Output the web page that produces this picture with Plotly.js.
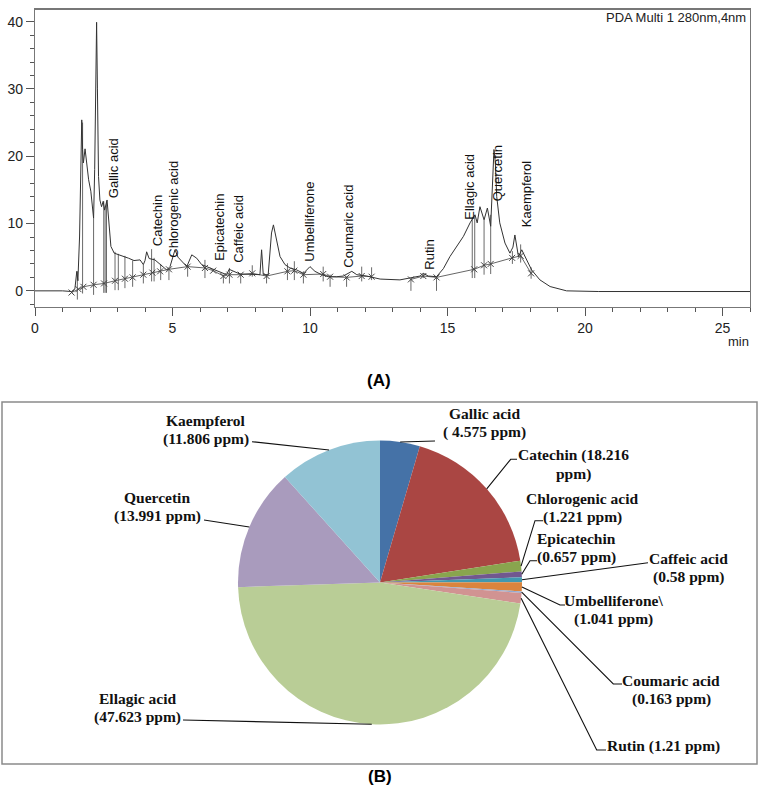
<!DOCTYPE html>
<html>
<head>
<meta charset="utf-8">
<script src="https://cdn.plot.ly/plotly-3.0.1.min.js"></script>
<style>html,body{margin:0;padding:0;background:#fff;}#chart{width:760px;height:800px;}</style>
</head>
<body>
<div id="chart"></div>
<script>
// ---------- (A) chromatogram ----------
const chromT = [0, 0.5, 1.0, 1.33, 1.45, 1.52, 1.56, 1.62, 1.67, 1.70, 1.73, 1.76, 1.82, 1.88, 1.95, 2.03, 2.10, 2.13, 2.17, 2.21, 2.24, 2.27, 2.31, 2.36, 2.42, 2.48, 2.53, 2.62, 2.68, 2.76, 2.88, 3.1, 3.3, 3.4, 3.6, 3.82, 3.94, 4.0, 4.06, 4.15, 4.36, 4.55, 4.79, 4.91, 5.03, 5.09, 5.2, 5.33, 5.52, 5.7, 5.88, 6.06, 6.36, 6.73, 6.97, 7.06, 7.21, 7.45, 7.94, 8.18, 8.24, 8.30, 8.48, 8.60, 8.67, 8.79, 8.91, 9.09, 9.27, 9.52, 9.76, 10.0, 10.18, 10.42, 10.67, 10.97, 11.21, 11.52, 11.7, 12.06, 12.55, 13.27, 13.70, 14.0, 14.12, 14.3, 14.6, 14.85, 15.09, 15.33, 15.58, 15.82, 16.0, 16.08, 16.18, 16.33, 16.45, 16.57, 16.63, 16.69, 16.74, 16.79, 16.9, 17.09, 17.27, 17.38, 17.45, 17.52, 17.58, 17.70, 17.82, 18.06, 18.36, 18.73, 19.33, 20.5, 22, 24, 26];
const chromY = [0, 0.05, 0, -0.1, 0.3, 2.9, 1.5, 8, 18, 25.4, 21, 19, 21.1, 19, 16.5, 14.8, 11.5, 10.8, 18, 32, 39.9, 30, 17, 13.5, 12.5, 13.3, 12.0, 13.5, 10, 6.6, 5.6, 5.3, 5.1, 4.85, 4.5, 4.6, 3.9, 4.5, 5.8, 4.8, 4.6, 3.9, 3.1, 3.6, 5.2, 6.1, 5.0, 4.4, 3.6, 5.35, 4.85, 3.9, 3.4, 2.7, 2.4, 3.2, 2.9, 2.5, 2.45, 2.4, 6.1, 2.4, 2.4, 8.6, 9.8, 7.6, 5.1, 3.9, 3.4, 3.1, 2.6, 3.6, 2.9, 2.4, 2.1, 2.1, 2.2, 2.9, 2.4, 2.2, 1.75, 1.63, 1.9, 2.2, 2.6, 2.2, 2.1, 3.3, 5.1, 6.5, 8.1, 10.1, 11.3, 10.1, 12.5, 10.55, 12.3, 9.6, 15, 21, 19, 14.0, 10.1, 7.1, 5.6, 6.5, 8.3, 6.5, 5.1, 6.1, 5.1, 3.1, 1.63, 0.64, 0.0, -0.1, -0.1, -0.1, -0.1];

// integration baseline (null = break)
const baseT = [1.33, 1.58, 1.76, 2.13, 2.51, 2.91, 3.27, 3.55, 3.94, 4.27, 4.55, 4.87, 5.55, 6.18, 6.48, 6.85, 7.07, 7.48, 7.90, 8.42, 9.18, 9.43, 9.76, 10.48, 10.73, 11.33, 11.88, 12.24, null, 13.67, 14.12, 14.6, 15.97, 16.33, 16.57, 17.35, 17.66, 18.04];
const baseY = [-0.25, 0.25, 0.6, 0.9, 1.1, 1.5, 1.8, 2.0, 2.4, 2.7, 2.9, 3.2, 3.6, 3.4, 3.0, 2.2, 2.4, 2.4, 2.6, 2.2, 2.9, 3.0, 2.4, 2.5, 2.1, 2.0, 2.2, 2.1, null, 1.7, 2.2, 2.0, 3.2, 3.8, 4.0, 4.9, 5.2, 2.6];

// peak drop lines
const dropT   = [1.54, 1.73, 2.13, 2.50, 2.55, 2.60, 2.91, 3.03, 3.27, 3.55, 3.94, 4.24, 4.33, 4.57, 4.87, 5.55, 6.18, 6.85, 7.07, 7.48, 7.90, 8.42, 9.18, 9.43, 9.76, 10.48, 10.73, 11.33, 11.88, 12.24, 13.67, 14.12, 14.6, 15.9, 15.99, 16.33, 16.57, 17.36, 17.66, 18.04];
const dropTop = [2.9, 25, 10.8, 13.3, 12.5, 13.3, 5.8, 5.5, 5.2, 4.5, 3.9, 6.2, 4.9, 4.0, 3.1, 3.8, 4.6, 2.4, 3.4, 2.6, 3.8, 2.4, 4.1, 4.4, 2.9, 3.6, 2.4, 2.1, 3.6, 3.5, 1.7, 2.6, 2.1, 11.0, 11.2, 10.55, 11.3, 5.9, 6.9, 3.5];
const dropBot = [-1.3, -0.4, -0.6, -0.3, -0.3, -0.3, 0.1, 0.1, 0.4, 0.6, 1.1, 1.4, 1.4, 1.6, 1.6, 2.1, 1.9, 1.1, 1.1, 1.1, 2.1, 1.1, 1.6, 1.6, 1.1, 1.4, 0.6, 0.6, 1.4, 1.6, 0.0, 1.9, 0.0, 1.9, 1.9, 2.4, 2.5, 4.0, 4.2, 1.8];

// peak labels
const peakNames  = ["Gallic acid", "Catechin", "Chlorogenic acid", "Epicatechin", "Caffeic acid", "Umbelliferone", "Coumaric acid", "Rutin", "Ellagic acid", "Quercetin", "Kaempferol"];
const peakTimes  = [2.88, 4.48, 5.03, 6.73, 7.39, 9.98, 11.39, 14.34, 15.79, 16.80, 17.86];
const peakLabelY = [13.5, 6.3, 4.6, 4.1, 3.9, 4.1, 3.1, 2.9, 10.3, 13.0, 9.1];

// ---------- (B) pie ----------
const compounds = ["Gallic acid", "Catechin", "Chlorogenic acid", "Epicatechin", "Caffeic acid", "Umbelliferone", "Coumaric acid", "Rutin", "Ellagic acid", "Quercetin", "Kaempferol"];
const ppm = [4.575, 18.216, 1.221, 0.657, 0.58, 1.041, 0.163, 1.21, 47.623, 13.991, 11.806];
const sliceColors = ["#4572A7", "#AA4643", "#89A54E", "#71588F", "#4198AF", "#DB843D", "#93A9CF", "#D19392", "#B9CD96", "#A99BBD", "#92C3D4"];
const pieLabels = ["Gallic acid|( 4.575 ppm)", "Catechin (18.216|ppm)", "Chlorogenic acid|(1.221 ppm)", "Epicatechin|(0.657 ppm)", "Caffeic acid|(0.58 ppm)", "Umbelliferone\\|(1.041 ppm)", "Coumaric acid|(0.163 ppm)", "Rutin (1.21 ppm)", "Ellagic acid|(47.623 ppm)", "Quercetin|(13.991 ppm)", "Kaempferol|(11.806 ppm)"];

// ---------- layout helpers (pixel -> paper) ----------
const W = 760, H = 800;
const px = v => v / W, py = v => 1 - v / H;
const pieCx = 380, pieCy = 582.5, pieR = 142;
// first-line centre of each pie label (px)
const labelPos = [[484, 413], [573, 455], [582, 498], [576, 538], [688, 558], [613, 600], [671, 680], [663, 746], [137, 698], [157, 497], [206, 420]];
const lineGap = 19;
// leader elbows/ends (px)
const leaderPts = [
  [[435, 441]],
  [[510.7, 459.3], [517, 459.3]],
  [[535, 520.7], [543, 520.7]],
  [[530, 560.7], [537, 560.7]],
  [[648, 562.7]],
  [[560, 605], [565, 605]],
  [[613.3, 684], [622, 684]],
  [[596.7, 750], [606, 750]],
  [[183, 720]],
  [[204, 520]],
  [[252, 441.7]]
];

// drop line arrays
const dx = [], dy = [];
dropT.forEach((t, i) => { dx.push(t, t, null); dy.push(dropTop[i], dropBot[i], null); });

const traces = [
  {type: 'scatter', mode: 'lines', x: dx, y: dy, line: {color: '#444', width: 0.8}, hoverinfo: 'skip', xaxis: 'x', yaxis: 'y'},
  {type: 'scatter', mode: 'lines+markers', x: baseT, y: baseY, line: {color: '#555', width: 0.9}, marker: {symbol: 'x-thin', size: 6, line: {color: '#444', width: 1}}, hoverinfo: 'skip', connectgaps: false, xaxis: 'x', yaxis: 'y'},
  {type: 'scatter', mode: 'lines', x: chromT, y: chromY, line: {color: '#333', width: 1}, hoverinfo: 'skip', xaxis: 'x', yaxis: 'y'},
  {type: 'pie', values: ppm, labels: compounds, sort: false, direction: 'clockwise', rotation: 0,
   marker: {colors: sliceColors, line: {width: 0}}, textinfo: 'none', hoverinfo: 'none',
   domain: {x: [px(pieCx - pieR), px(pieCx + pieR)], y: [py(pieCy + pieR), py(pieCy - pieR)]}}
];

const annotations = [];
peakNames.forEach((n, i) => annotations.push({
  x: peakTimes[i], y: peakLabelY[i], xref: 'x', yref: 'y', text: n, textangle: -90,
  showarrow: false, xanchor: 'center', yanchor: 'bottom',
  font: {family: 'Liberation Sans, Arial', size: 13, color: '#111'}
}));
annotations.push({x: px(748), y: py(18), xref: 'paper', yref: 'paper', text: 'PDA Multi 1 280nm,4nm', showarrow: false, xanchor: 'right', yanchor: 'middle', font: {family: 'Liberation Sans, Arial', size: 13, color: '#222'}});
annotations.push({x: px(738), y: py(341), xref: 'paper', yref: 'paper', text: 'min', showarrow: false, xanchor: 'center', yanchor: 'middle', font: {family: 'Liberation Sans, Arial', size: 13, color: '#222'}});
annotations.push({x: px(379), y: py(380), xref: 'paper', yref: 'paper', text: '<b>(A)</b>', showarrow: false, xanchor: 'center', yanchor: 'middle', font: {family: 'Liberation Sans, Arial', size: 17, color: '#000'}});
annotations.push({x: px(380), y: py(776), xref: 'paper', yref: 'paper', text: '<b>(B)</b>', showarrow: false, xanchor: 'center', yanchor: 'middle', font: {family: 'Liberation Sans, Arial', size: 17, color: '#000'}});

pieLabels.forEach((t, i) => {
  t.split('|').forEach((line, k) => annotations.push({
    x: px(labelPos[i][0]), y: py(labelPos[i][1] + k * lineGap), xref: 'paper', yref: 'paper', text: '<b>' + line + '</b>',
    showarrow: false, xanchor: 'center', yanchor: 'middle',
    font: {family: 'Liberation Serif, Times New Roman', size: 15.5, color: '#111'}
  }));
});

// leader lines starting at each slice's mid-angle on the pie edge
const total = ppm.reduce((a, b) => a + b, 0);
const shapes = [];
let cum = 0;
ppm.forEach((v, i) => {
  const mid = (cum + v / 2) / total * 2 * Math.PI; cum += v;
  const sx = pieCx + pieR * Math.sin(mid), sy = pieCy - pieR * Math.cos(mid);
  let path = 'M ' + px(sx) + ',' + py(sy);
  leaderPts[i].forEach(p => { path += ' L ' + px(p[0]) + ',' + py(p[1]); });
  shapes.push({type: 'path', xref: 'paper', yref: 'paper', path: path, line: {color: '#111', width: 1.1}});
});
shapes.push({type: 'rect', xref: 'paper', yref: 'paper', x0: px(2), x1: px(757), y0: py(764), y1: py(402), line: {color: '#8a8a8a', width: 1.5}, fillcolor: 'rgba(0,0,0,0)', layer: 'below'});

const layout = {
  width: W, height: H, margin: {l: 0, r: 0, t: 0, b: 0}, showlegend: false,
  paper_bgcolor: '#fff', plot_bgcolor: '#fff',
  xaxis: {domain: [px(35), px(750)], range: [0, 26], anchor: 'y', showgrid: false, zeroline: false,
    showline: true, mirror: true, linecolor: '#777', linewidth: 1.2,
    tickmode: 'linear', tick0: 0, dtick: 5, ticks: 'outside', ticklen: 8, tickcolor: '#555',
    minor: {dtick: 1, ticks: 'outside', ticklen: 4, tickcolor: '#555', showgrid: false},
    tickfont: {family: 'Liberation Sans, Arial', size: 14, color: '#222'}},
  yaxis: {domain: [py(307), py(9.5)], range: [-2.4, 41.8], anchor: 'x', showgrid: false, zeroline: false,
    showline: true, mirror: true, linecolor: '#777', linewidth: 1.2,
    tickmode: 'linear', tick0: 0, dtick: 10, ticks: 'outside', ticklen: 8, tickcolor: '#555',
    minor: {dtick: 2, ticks: 'outside', ticklen: 4, tickcolor: '#555', showgrid: false},
    tickfont: {family: 'Liberation Sans, Arial', size: 14, color: '#222'}},
  annotations: annotations, shapes: shapes
};

Plotly.newPlot('chart', traces, layout, {staticPlot: true, displayModeBar: false});
</script>
</body>
</html>
